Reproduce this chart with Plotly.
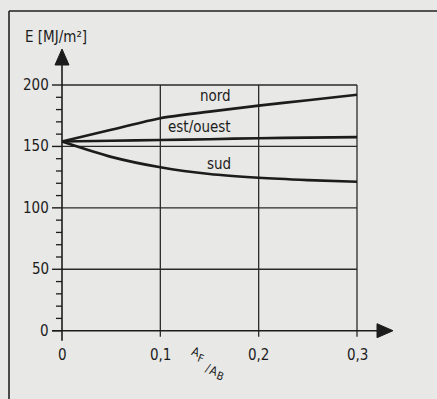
import plotly.graph_objects as go

# ---- data ----
x_vals = [0, 0.05, 0.1, 0.15, 0.2, 0.25, 0.3]
nord = [154, 163.5, 173, 178.3, 183.2, 187.6, 192]
est_ouest = [154, 154.6, 155.2, 155.9, 156.7, 157.2, 157.6]
sud = [154, 141.5, 133, 127.5, 124.5, 122.6, 121.2]

series_names = ["nord", "est/ouest", "sud"]
label_pos_y = [191, 165.5, 136]

x_ticks = [0, 0.1, 0.2, 0.3]
x_tick_labels = ["0", "0,1", "0,2", "0,3"]
y_ticks = [0, 50, 100, 150, 200]
y_tick_labels = ["0", "50", "100", "150", "200"]
y_minor = [v for v in range(0, 201, 10) if v % 50 != 0]

# x-axis title glyphs: A_F / A_B
x_title_chars = ["A", "F", "/", "A", "B"]
x_title_sizes = [12, 11, 12, 12, 11]
x_title_px = [(195.5, 352), (200.5, 358), (207.5, 368), (214, 371), (220.5, 376)]

FONT = "Liberation Sans Narrow, DejaVu Sans Condensed, Roboto Condensed, Open Sans, sans-serif"
INK = "#1c1c1c"
BG = "#e8e8e6"

W, H = 437, 399
x0_px, x03_px = 62.0, 357.0
y0_px, px_per_unit = 330.7, 1.2285
x_scale = 0.3 / (x03_px - x0_px)
x_range = [-x0_px * x_scale, (W - x0_px) * x_scale]
y_range = [-(H - y0_px) / px_per_unit, y0_px / px_per_unit]

fig = go.Figure()
for name, ys in zip(series_names, [nord, est_ouest, sud]):
    fig.add_trace(go.Scatter(x=x_vals, y=ys, mode="lines", name=name,
                             line=dict(color=INK, width=2.6, shape="spline", smoothing=0.8),
                             showlegend=False, hoverinfo="skip"))

shapes = []
grid_col = "#2a2a2a"
for xv in x_ticks[1:]:
    shapes.append(dict(type="line", xref="x", yref="y", x0=xv, x1=xv, y0=0, y1=200,
                       line=dict(color=grid_col, width=1.3), layer="below"))
    shapes.append(dict(type="line", xref="x", yref="y", x0=xv, x1=xv, y0=0, y1=-6,
                       ysizemode="pixel", yanchor=0, line=dict(color=grid_col, width=1.3)))
for yv in y_ticks[1:]:
    shapes.append(dict(type="line", xref="x", yref="y", x0=0, x1=0.3, y0=yv, y1=yv,
                       line=dict(color=grid_col, width=1.3), layer="below"))
for yv in y_ticks:
    shapes.append(dict(type="line", xref="x", yref="y", xsizemode="pixel", xanchor=0,
                       x0=-10, x1=0, y0=yv, y1=yv, line=dict(color=INK, width=1.4)))
for yv in y_minor:
    shapes.append(dict(type="line", xref="x", yref="y", xsizemode="pixel", xanchor=0,
                       x0=-6, x1=0, y0=yv, y1=yv, line=dict(color=INK, width=1.3)))
shapes.append(dict(type="line", xref="x", yref="y", ysizemode="pixel", yanchor=0,
                   x0=0, x1=0, y0=-10, y1=200 * px_per_unit + 20, line=dict(color=INK, width=1.6)))
shapes.append(dict(type="path", xref="x", yref="y", xsizemode="pixel", ysizemode="pixel",
                   xanchor=0, yanchor=200, path="M -7 20 L 7 20 L 0 36 Z",
                   fillcolor=INK, line=dict(color=INK, width=1)))
shapes.append(dict(type="line", xref="x", yref="y", xsizemode="pixel", xanchor=0,
                   x0=-10, x1=0.3 / x_scale + 20, y0=0, y1=0, line=dict(color=INK, width=1.6)))
shapes.append(dict(type="path", xref="x", yref="y", xsizemode="pixel", ysizemode="pixel",
                   xanchor=0.3, yanchor=0, path="M 20 -7 L 20 7 L 36 0 Z",
                   fillcolor=INK, line=dict(color=INK, width=1)))
shapes.append(dict(type="line", xref="paper", yref="paper", x0=9 / W, x1=9 / W,
                   y0=-0.05, y1=1 - 11 / H, line=dict(color="#222", width=1.6)))
shapes.append(dict(type="line", xref="paper", yref="paper", x0=9 / W, x1=1.05,
                   y0=1 - 11 / H, y1=1 - 11 / H, line=dict(color="#222", width=1.6)))

ann = []
for xv, t in zip(x_ticks, x_tick_labels):
    ann.append(dict(x=xv, y=0, xref="x", yref="y", text=t, showarrow=False,
                    xanchor="center", yanchor="top", yshift=-13,
                    font=dict(family=FONT, size=15, color=INK)))
for yv, t in zip(y_ticks, y_tick_labels):
    ann.append(dict(x=0, y=yv, xref="x", yref="y", text=t, showarrow=False,
                    xanchor="right", yanchor="middle", xshift=-11,
                    font=dict(family=FONT, size=15, color=INK)))
for name, yv in zip(series_names, label_pos_y):
    ann.append(dict(x=0.174, y=yv, xref="x", yref="y", text=name, showarrow=False,
                    xanchor="right", yanchor="middle",
                    font=dict(family=FONT, size=15, color=INK)))
ann.append(dict(x=23 / W, y=1 - 37 / H, xref="paper", yref="paper", text="E [MJ/m²]",
                showarrow=False, xanchor="left", yanchor="middle",
                font=dict(family=FONT, size=15, color=INK)))
for ch, sz, (px, py) in zip(x_title_chars, x_title_sizes, x_title_px):
    ann.append(dict(x=px / W, y=1 - py / H, xref="paper", yref="paper", text=ch,
                    showarrow=False, xanchor="center", yanchor="middle", textangle=20,
                    font=dict(family=FONT, size=sz, color=INK)))

fig.update_layout(
    width=W, height=H, margin=dict(l=0, r=0, t=0, b=0),
    paper_bgcolor=BG, plot_bgcolor=BG,
    xaxis=dict(range=x_range, visible=False, fixedrange=True),
    yaxis=dict(range=y_range, visible=False, fixedrange=True),
    shapes=shapes, annotations=ann, showlegend=False,
)
fig.write_html("out.html")
